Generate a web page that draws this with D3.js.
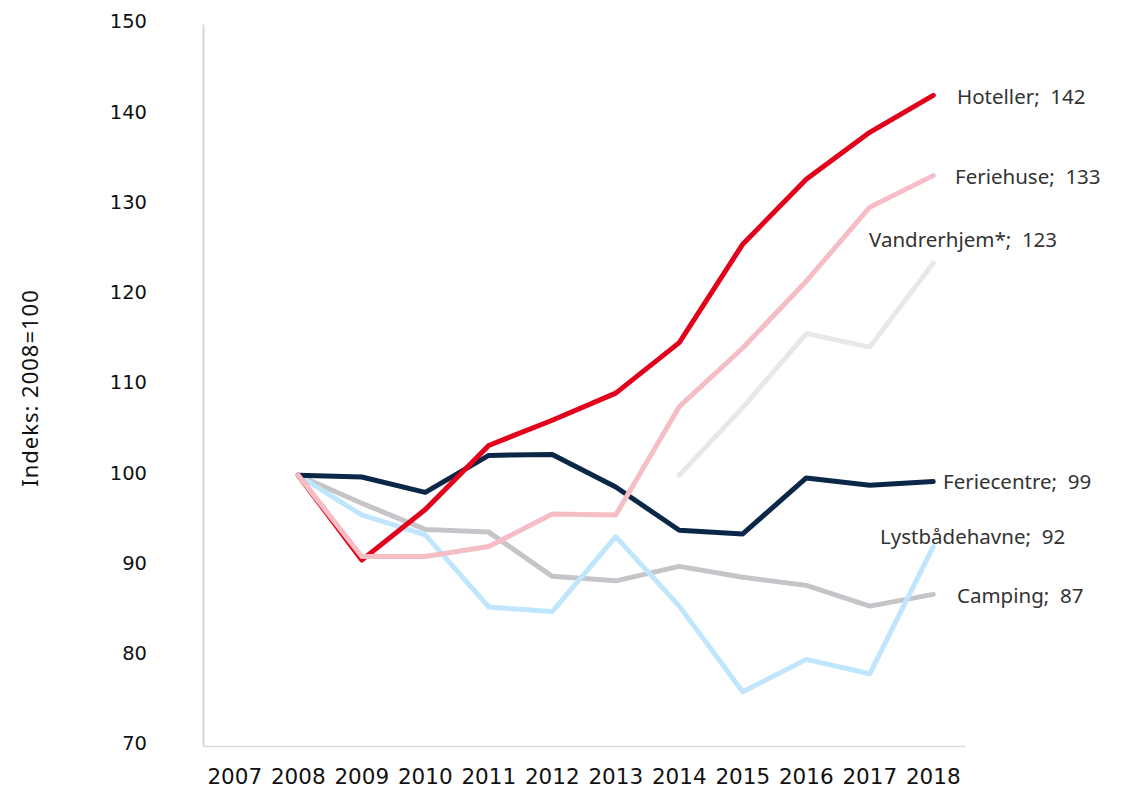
<!DOCTYPE html>
<html>
<head>
<meta charset="utf-8">
<script src="https://cdn.jsdelivr.net/npm/d3@7"></script>
<style>
  body { margin: 0; background: #fff; }
  text { font-family: "Noto Sans", "Open Sans", sans-serif; }
</style>
</head>
<body>
<div class="chart"></div>
<script>
var years = ["2007", "2008", "2009", "2010", "2011", "2012", "2013", "2014", "2015", "2016", "2017", "2018"];
var yTicks = [70, 80, 90, 100, 110, 120, 130, 140, 150];

// values per year (null = no data)
var hoteller     = [null, 100, 90.6, 96.2, 103.3, 106.1, 109.1, 114.7, 125.6, 132.8, 138.0, 142.1];
var feriehuse    = [null, 100, 91.0, 91.0, 92.1, 95.7, 95.6, 107.6, 114.1, 121.5, 129.7, 133.2];
var vandrerhjem  = [null, null, null, null, null, null, null, 100, 107.5, 115.7, 114.2, 123.5];
var feriecentre  = [null, 100, 99.8, 98.1, 102.2, 102.3, 98.7, 93.9, 93.5, 99.7, 98.9, 99.3];
var lystbaade    = [null, 100, 95.6, 93.4, 85.4, 84.9, 93.2, 85.5, 76.0, 79.6, 78.0, 92.1];
var camping      = [null, 100, 96.9, 94.0, 93.7, 88.8, 88.3, 89.9, 88.7, 87.8, 85.5, 86.8];

var seriesNames = ["Vandrerhjem*", "Camping", "Lystbådehavne", "Feriecentre", "Hoteller", "Feriehuse"];
var seriesValues = [vandrerhjem, camping, lystbaade, feriecentre, hoteller, feriehuse];
var seriesLabels = ["123", "87", "92", "99", "142", "133"];
var seriesColors = ["#e8e8e8", "#c5c5c9", "#bfe6fc", "#0b2747", "#e2001a", "#f5bec4"];

var svgWidth = 1132;
var svgHeight = 789;

var svg = d3.select(".chart")
  .append("svg")
  .attr("width", svgWidth)
  .attr("height", svgHeight);

var x = d3.scaleBand()
  .domain(years)
  .range([203, 965]);

var y = d3.scaleLinear()
  .domain([70, 150])
  .range([746, 24]);

// axes
var leftAxis = d3.axisLeft(y).tickValues(yTicks).tickSize(0).tickPadding(56);
var gy = svg.append("g")
  .attr("transform", "translate(203,0)")
  .call(leftAxis);
gy.select(".domain").attr("stroke", "#cddce4").attr("stroke-width", 2);
gy.selectAll("text")
  .style("font-family", "'DejaVu Sans', sans-serif")
  .attr("font-size", 19.5).attr("fill", "#111").attr("dy", "0.2em");

var bottomAxis = d3.axisBottom(x).tickSize(0).tickPadding(20);
var gx = svg.append("g")
  .attr("transform", "translate(0,746)")
  .call(bottomAxis);
gx.select(".domain").attr("stroke", "#dadada").attr("stroke-width", 1.5);
gx.selectAll("text")
  .style("font-family", "'DejaVu Sans', sans-serif")
  .attr("font-size", 21.5).attr("fill", "#111").attr("dy", "0.85em");

// lines
var line = d3.line()
  .defined(d => d != null)
  .x((d, i) => x(years[i]) + x.bandwidth() / 2)
  .y(d => y(d));

seriesValues.forEach(function(vals, k) {
  svg.append("path")
    .datum(vals)
    .attr("fill", "none")
    .attr("stroke", seriesColors[k])
    .attr("stroke-width", 5)
    .attr("stroke-linejoin", "round")
    .attr("stroke-linecap", "round")
    .attr("d", line);
});

// end labels
var labelPos = {
  "Hoteller": [957, 97],
  "Feriehuse": [955, 177],
  "Vandrerhjem*": [869, 240],
  "Feriecentre": [943, 482],
  "Lystbådehavne": [880, 537],
  "Camping": [957, 596]
};
seriesNames.forEach(function(name, k) {
  svg.append("text")
    .attr("x", labelPos[name][0])
    .attr("y", labelPos[name][1])
    .attr("dy", "0.35em")
    .attr("font-size", 20.5)
    .attr("fill", "#333")
    .style("white-space", "pre")
    .text(name + ";  " + seriesLabels[k]);
});

// y axis title
svg.append("text")
  .attr("transform", "translate(38,388) rotate(-90)")
  .attr("text-anchor", "middle")
  .attr("font-size", 22)
  .attr("letter-spacing", 1)
  .attr("fill", "#111")
  .text("Indeks: 2008=100");
</script>
</body>
</html>
